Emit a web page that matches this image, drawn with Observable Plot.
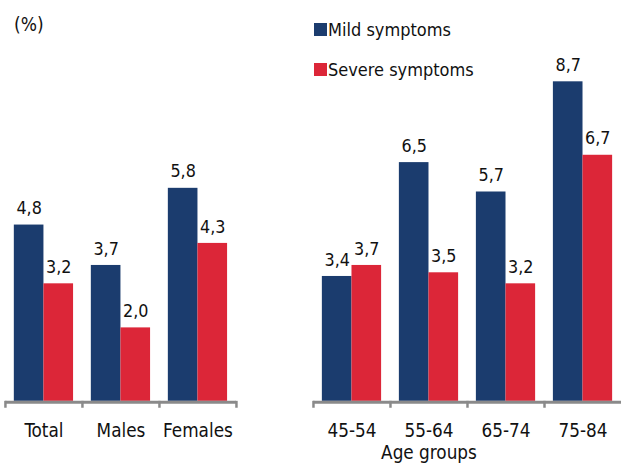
<!DOCTYPE html>
<html>
<head>
<meta charset="utf-8">
<script src="https://cdn.jsdelivr.net/npm/d3@7"></script>
<script src="https://cdn.jsdelivr.net/npm/@observablehq/plot@0.6"></script>
<style>
  html, body { margin: 0; padding: 0; overflow: hidden; background: #fff; }
  #wrap { position: relative; width: 622px; height: 470px; overflow: hidden;
          font-family: "DejaVu Sans Condensed", "DejaVu Sans", sans-serif; font-stretch: condensed; font-size: 18px; color: #111; }
  #wrap svg { font-stretch: condensed; display: block; }
  .unit { position: absolute; left: 14px; top: 15px; line-height: 18px; font-size: 19px; }
  .leg { position: absolute; left: 314px; height: 14px; line-height: 14px; white-space: nowrap; }
  .leg i { display: inline-block; width: 13px; height: 13px; vertical-align: top; margin-top: 0px; margin-right: 1px; }
</style>
</head>
<body>
<div id="wrap"></div>
<script>
const groups = ["Total", "Males", "Females", " ", "45-54", "55-64", "65-74", "75-84"];
const series = ["Mild symptoms", "Severe symptoms"];
const colors = ["#1b3c6e", "#dc2638"];
const mild   = [4.8, 3.7, 5.8, null, 3.4, 6.5, 5.7, 8.7];
const severe = [3.2, 2.0, 4.3, null, 3.7, 3.5, 3.2, 6.7];
const unitLabel = "(%)";
const axisTitle = "Age groups";
const axisTitleGroup = "55-64";

const data = [];
groups.forEach((g, i) => {
  if (mild[i] != null) data.push({group: g, series: series[0], value: mild[i]});
  if (severe[i] != null) data.push({group: g, series: series[1], value: severe[i]});
});
const fmt = v => d3.format(".1f")(v).replace(".", ",");

const chart = Plot.plot({
  width: 630,
  height: 470,
  marginLeft: 5,
  marginRight: 1,
  marginTop: 34,
  marginBottom: 64,
  style: {fontFamily: '"DejaVu Sans Condensed", "DejaVu Sans", sans-serif', fontSize: "18px", color: "#111", background: "transparent"},
  fx: {domain: groups, padding: 0, label: null},
  x: {domain: series, paddingInner: 0, paddingOuter: 0.26, axis: null},
  y: {domain: [0, 10], axis: null},
  color: {domain: series, range: colors},
  marks: [
    Plot.barY(data, {fx: "group", x: "series", y: "value", fill: "series"}),
    Plot.text(data, {fx: "group", x: "series", y: "value", text: d => fmt(d.value),
      lineAnchor: "bottom", dy: -11, fontSize: 18, fill: "#111"}),
    Plot.ruleY([0], {stroke: "#8a8a8a", strokeWidth: 3, dy: 1}),
    Plot.axisFx({anchor: "bottom", tickSize: 7, stroke: "#8a8a8a", strokeWidth: 2.5, fill: "none", dx: -39, label: null}),
    Plot.axisFx({anchor: "bottom", tickSize: 0, tickPadding: 23, fontSize: 19, fill: "#111", label: null}),
    Plot.text([{g: axisTitleGroup, t: axisTitle}], {fx: "g", text: "t", frameAnchor: "bottom", lineAnchor: "bottom", dy: 58, fontSize: 19, fill: "#111"})
  ]
});

const wrap = document.getElementById("wrap");
wrap.appendChild(chart);

const u = document.createElement("div");
u.className = "unit";
u.textContent = unitLabel;
wrap.appendChild(u);

const legTops = [23, 63];
series.forEach((s, i) => {
  const d = document.createElement("div");
  d.className = "leg";
  d.style.top = legTops[i] + "px";
  const sw = document.createElement("i");
  sw.style.background = colors[i];
  d.appendChild(sw);
  d.appendChild(document.createTextNode(s));
  wrap.appendChild(d);
});
</script>
</body>
</html>
